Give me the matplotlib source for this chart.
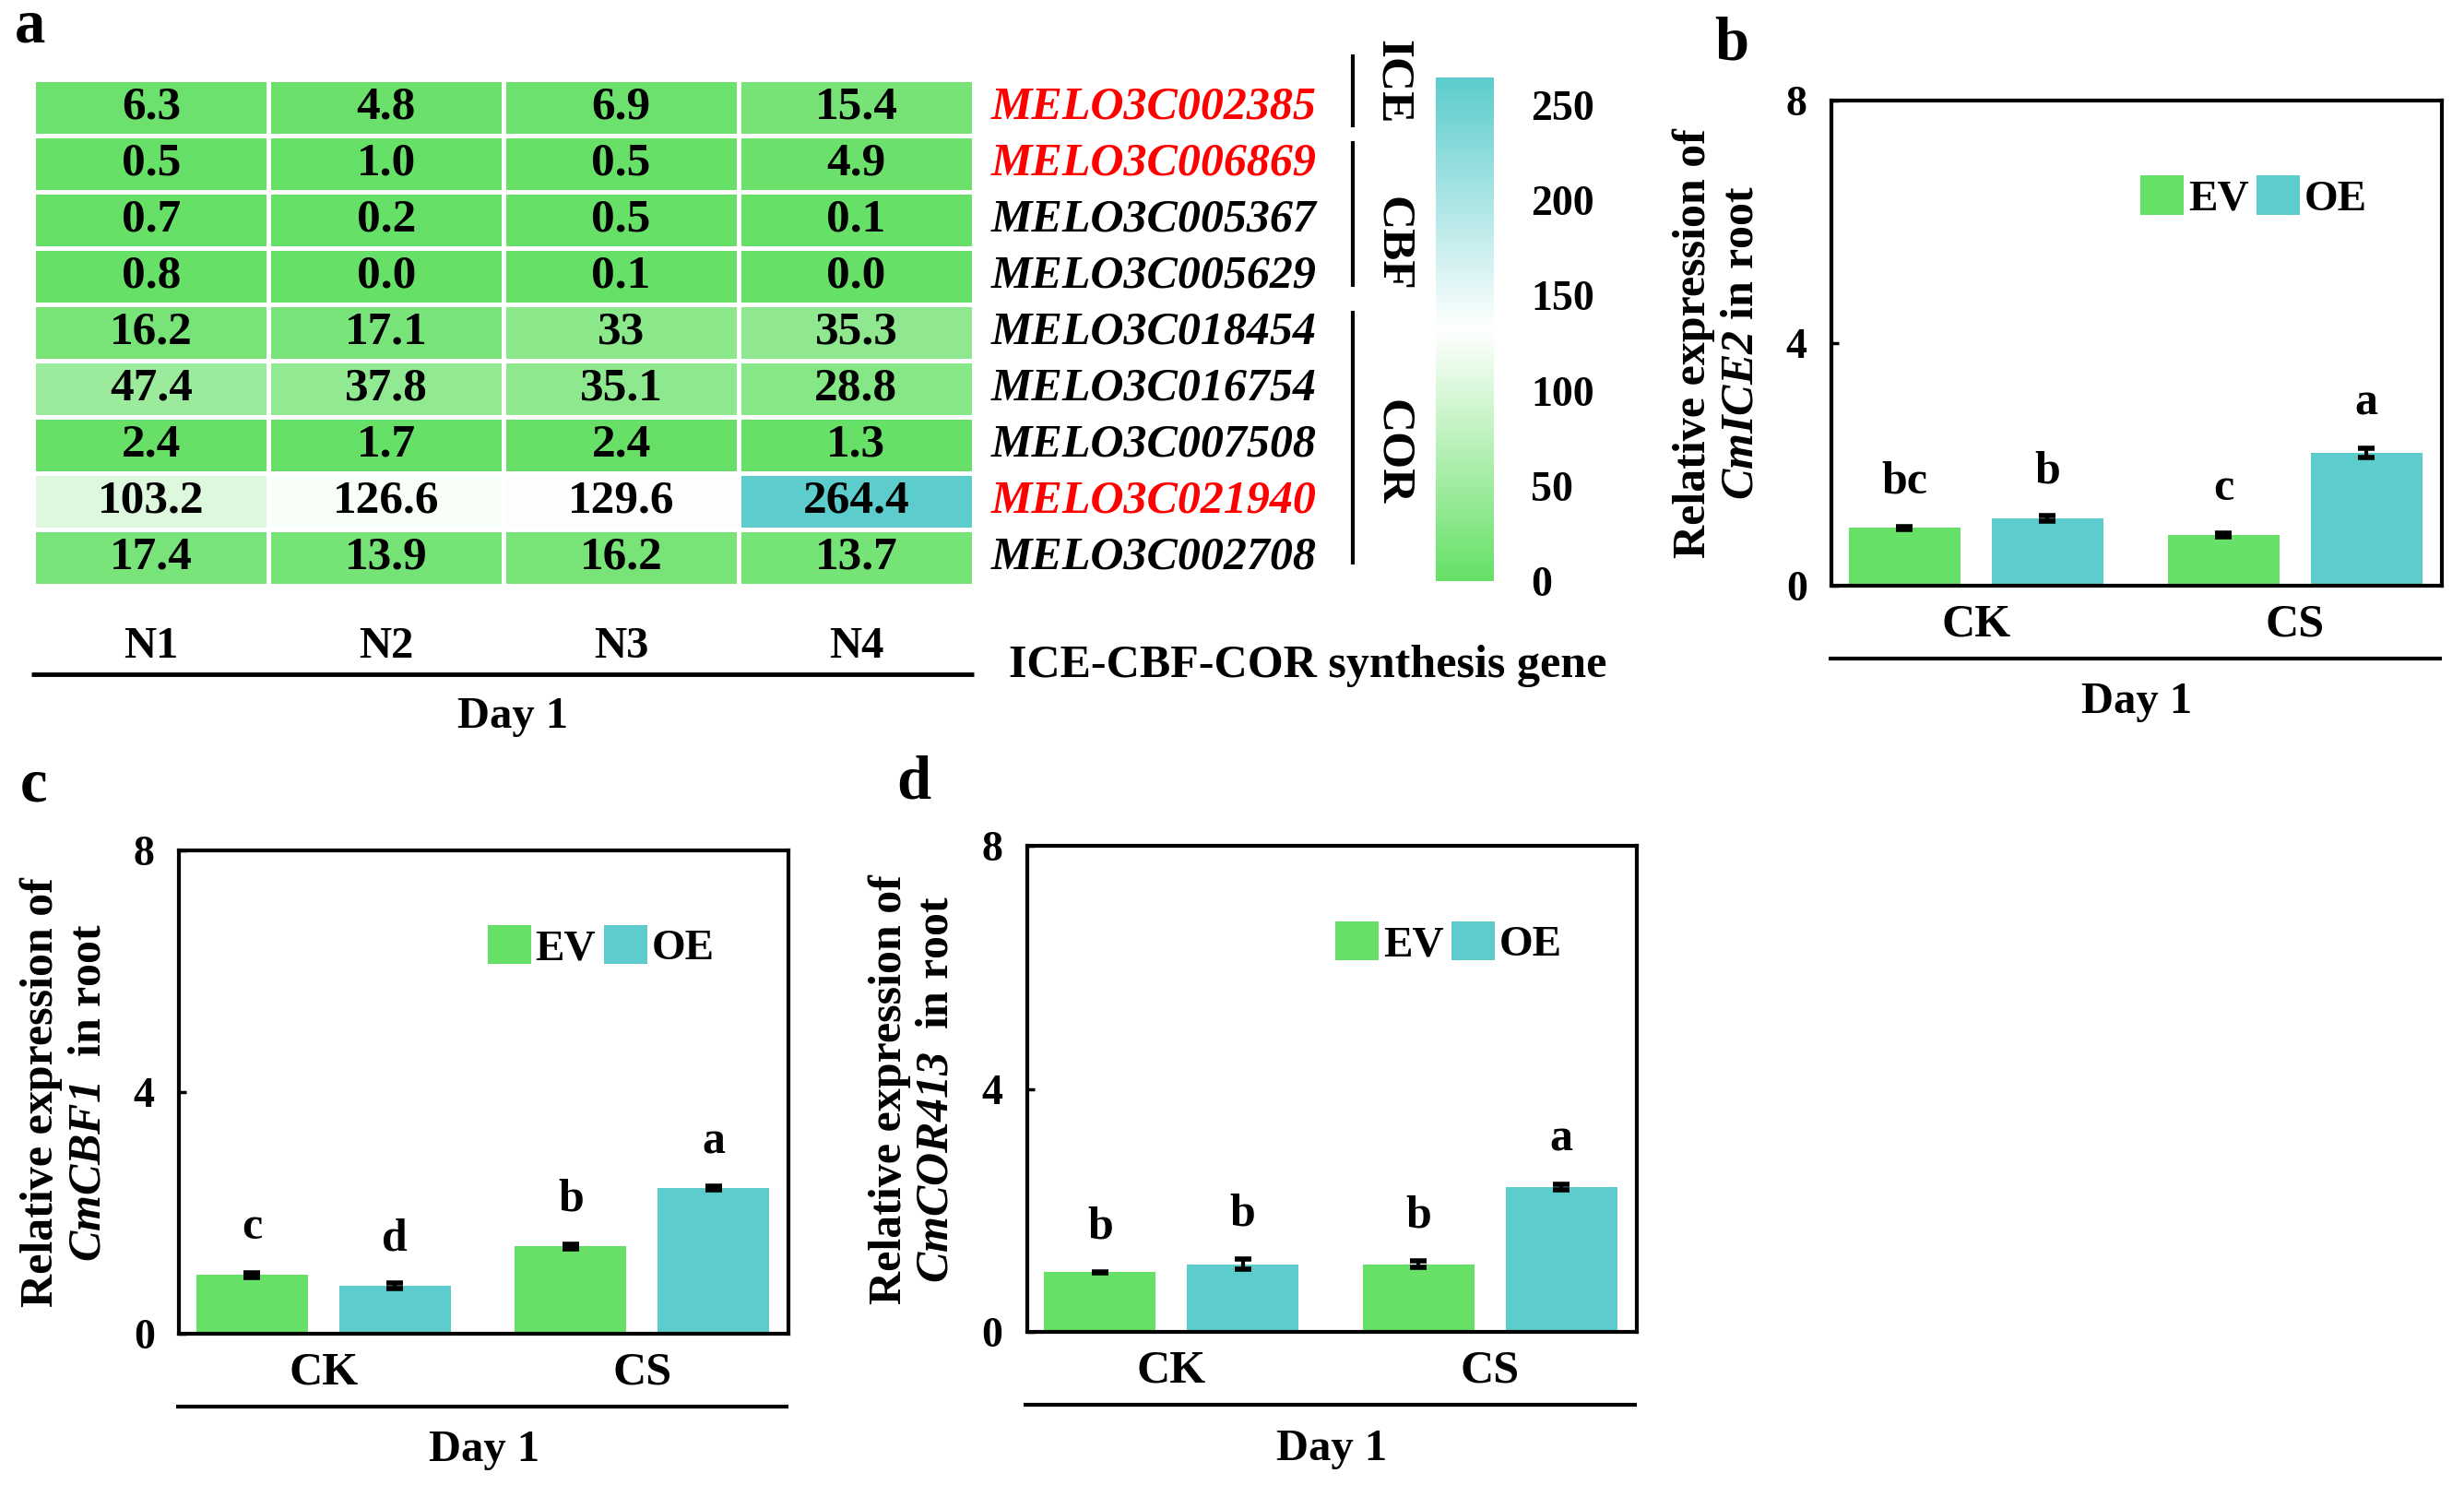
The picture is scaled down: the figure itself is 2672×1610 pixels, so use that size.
import numpy as np
import matplotlib
matplotlib.use('Agg')
import matplotlib.pyplot as plt
from matplotlib.colors import LinearSegmentedColormap
from matplotlib.patches import Patch

plt.rcParams['font.family'] = ['Liberation Serif', 'DejaVu Serif']
plt.rcParams['font.weight'] = 'bold'
plt.rcParams['mathtext.fontset'] = 'custom'
plt.rcParams['mathtext.it'] = 'Liberation Serif:italic:bold'
plt.rcParams['mathtext.rm'] = 'Liberation Serif:italic:bold'
plt.rcParams['mathtext.bf'] = 'Liberation Serif:italic:bold'

# ---------------- data ----------------
samples = ['N1', 'N2', 'N3', 'N4']
genes = ['MELO3C002385', 'MELO3C006869', 'MELO3C005367', 'MELO3C005629',
         'MELO3C018454', 'MELO3C016754', 'MELO3C007508', 'MELO3C021940',
         'MELO3C002708']
gene_highlight = [True, True, False, False, False, False, False, True, False]
expr = np.array([
    [6.3, 4.8, 6.9, 15.4],
    [0.5, 1.0, 0.5, 4.9],
    [0.7, 0.2, 0.5, 0.1],
    [0.8, 0.0, 0.1, 0.0],
    [16.2, 17.1, 33, 35.3],
    [47.4, 37.8, 35.1, 28.8],
    [2.4, 1.7, 2.4, 1.3],
    [103.2, 126.6, 129.6, 264.4],
    [17.4, 13.9, 16.2, 13.7],
])
expr_text = [
    ['6.3', '4.8', '6.9', '15.4'],
    ['0.5', '1.0', '0.5', '4.9'],
    ['0.7', '0.2', '0.5', '0.1'],
    ['0.8', '0.0', '0.1', '0.0'],
    ['16.2', '17.1', '33', '35.3'],
    ['47.4', '37.8', '35.1', '28.8'],
    ['2.4', '1.7', '2.4', '1.3'],
    ['103.2', '126.6', '129.6', '264.4'],
    ['17.4', '13.9', '16.2', '13.7'],
]
gene_groups = ['ICE', 'CBF', 'COR']
cbar_ticks = [0, 50, 100, 150, 200, 250]

conditions = ['CK', 'CS']
series = ['EV', 'OE']

ice2_ev = [0.95, 0.84]
ice2_ev_err = [0.03, 0.03]
ice2_oe = [1.11, 2.19]
ice2_oe_err = [0.04, 0.08]
ice2_letters_ev = ['bc', 'c']
ice2_letters_oe = ['b', 'a']

cbf1_ev = [0.98, 1.45]
cbf1_ev_err = [0.04, 0.04]
cbf1_oe = [0.80, 2.41]
cbf1_oe_err = [0.04, 0.03]
cbf1_letters_ev = ['c', 'b']
cbf1_letters_oe = ['d', 'a']

cor413_ev = [0.985, 1.12]
cor413_ev_err = [0.01, 0.05]
cor413_oe = [1.12, 2.39]
cor413_oe_err = [0.08, 0.05]
cor413_letters_ev = ['b', 'b']
cor413_letters_oe = ['b', 'a']

GREEN = '#66E066'
TEAL = '#5CCCCC'
RED = '#FF0000'

W, H = 2672, 1610
fig = plt.figure(figsize=(W / 100, H / 100), dpi=100)

# ---------------- panel a : heatmap ----------------
cmap = LinearSegmentedColormap.from_list('gwt', [GREEN, '#FFFFFF', TEAL])
ax_h = fig.add_axes([0.01365, 0.6056, 0.3815, 0.3409])
mesh = ax_h.pcolormesh(np.arange(len(samples) + 1), np.arange(len(genes) + 1), expr,
                       cmap=cmap, vmin=expr.min(), vmax=expr.max(),
                       edgecolors='white', linewidth=3.6)
ax_h.set_xlim(0, len(samples))
ax_h.set_ylim(len(genes), 0)
for s in ax_h.spines.values():
    s.set_visible(False)
ax_h.set_yticks([])
ax_h.set_xticks(np.arange(len(samples)) + 0.5)
ax_h.set_xticklabels(samples)
ax_h.tick_params(axis='x', length=0, pad=32, labelsize=35)

for i in range(len(genes)):
    for j in range(len(samples)):
        ax_h.text(j + 0.5, i + 0.5, expr_text[i][j], ha='center', va='center',
                  fontsize=37, fontweight='bold', color='black')

ytr = ax_h.get_yaxis_transform()
for i, g in enumerate(genes):
    ax_h.text(1.018, i + 0.5, g, transform=ytr, ha='left', va='center',
              fontsize=36, fontweight='bold', fontstyle='italic',
              color=RED if gene_highlight[i] else 'black')

# group brackets
bracket_x = 1.4035
bracket_spans = [(1.0496, 0.9056), (0.878, 0.590), (0.543, 0.042)]
label_y = [0.995, 0.676, 0.264]
for (y0, y1), ly, name in zip(bracket_spans, label_y, gene_groups):
    ax_h.plot([bracket_x, bracket_x], [y0, y1], transform=ax_h.transAxes,
              color='black', lw=3, clip_on=False, solid_capstyle='butt')
    ax_h.text(1.4456, ly, name, transform=ax_h.transAxes, rotation=-90,
              ha='center', va='center', fontsize=37, fontweight='bold')

ax_h.plot([-0.002, 1.0], [-0.175, -0.175], transform=ax_h.transAxes,
          color='black', lw=3.5, clip_on=False, solid_capstyle='butt')
ax_h.text(0.51, -0.259, 'Day 1', transform=ax_h.transAxes, ha='center',
          va='center', fontsize=35, fontweight='bold')
ax_h.text(1.0375, -0.159, 'ICE-CBF-COR synthesis gene', transform=ax_h.transAxes,
          ha='left', va='center', fontsize=36, fontweight='bold')

# colorbar
cax = fig.add_axes([0.5827, 0.6087, 0.0236, 0.3391])
cb = fig.colorbar(mesh, cax=cax, ticks=cbar_ticks)
cb.outline.set_visible(False)
cax.tick_params(length=0, pad=29, labelsize=33)
for t in cax.get_yticklabels():
    t.set_fontweight('bold')


# ---------------- bar panels ----------------
def bar_panel(rect, ev, ev_err, oe, oe_err, let_ev, let_oe, gene, label_space):
    ax = fig.add_axes(rect)
    x = np.arange(len(conditions))
    off, wid = 0.224, 0.35
    ekw = dict(elinewidth=3, capsize=6.5, capthick=4, ecolor='black')
    ax.bar(x - off, ev, wid, yerr=ev_err, color=GREEN, error_kw=ekw, label=series[0])
    ax.bar(x + off, oe, wid, yerr=oe_err, color=TEAL, error_kw=ekw, label=series[1])
    for xi, v, e, l in zip(x - off, ev, ev_err, let_ev):
        ax.text(xi, v + e + 0.55, l, ha='center', va='baseline', fontsize=36,
                fontweight='bold')
    for xi, v, e, l in zip(x + off, oe, oe_err, let_oe):
        ax.text(xi, v + e + 0.55, l, ha='center', va='baseline', fontsize=36,
                fontweight='bold')
    ax.set_xlim(-0.453, 1.46)
    ax.set_ylim(0, 8)
    ax.set_yticks([0, 4, 8])
    ax.set_yticklabels(['0', '4', '8'])
    ax.tick_params(axis='y', direction='in', length=6, width=2.5, pad=19,
                   labelsize=33)
    ax.set_xticks(x)
    ax.set_xticklabels(conditions)
    ax.tick_params(axis='x', length=0, pad=14, labelsize=36)
    for t in ax.get_xticklabels() + ax.get_yticklabels():
        t.set_fontweight('bold')
    for s in ax.spines.values():
        s.set_linewidth(3)
    ax.set_ylabel('Relative expression of\n$\\mathrm{' + gene + '}$' + label_space + 'in root',
                  fontsize=36, fontweight='bold', linespacing=1.15)
    ax.yaxis.set_label_coords(-0.113, 0.5)
    handles = [Patch(facecolor=GREEN), Patch(facecolor=TEAL)]
    ax.legend(handles, series, ncol=2, loc='center', bbox_to_anchor=(0.692, 0.80),
              frameon=False, handlelength=1.0, handleheight=1.0,
              handletextpad=0.1, columnspacing=0.18,
              prop=dict(size=34, weight='bold'))
    ax.plot([-0.005, 1.0], [-0.15, -0.15], transform=ax.transAxes, color='black',
            lw=3, clip_on=False, solid_capstyle='butt')
    ax.text(0.5, -0.24, 'Day 1', transform=ax.transAxes, ha='center', va='center',
            fontsize=35, fontweight='bold')
    return ax


bar_panel([0.7433, 0.6056, 0.2476, 0.3269], ice2_ev, ice2_ev_err, ice2_oe, ice2_oe_err,
          ice2_letters_ev, ice2_letters_oe, 'CmICE2', ' ')
bar_panel([0.07264, 0.1016, 0.2475, 0.3259], cbf1_ev, cbf1_ev_err, cbf1_oe, cbf1_oe_err,
          cbf1_letters_ev, cbf1_letters_oe, 'CmCBF1', '  ')
bar_panel([0.4168, 0.1029, 0.2474, 0.3275], cor413_ev, cor413_ev_err, cor413_oe,
          cor413_oe_err, cor413_letters_ev, cor413_letters_oe, 'CmCOR413', '  ')

# panel letters
for lx, ly, lt in [(0.01235, 0.9717, 'a'), (0.7028, 0.9602, 'b'),
                   (0.0135, 0.4608, 'c'), (0.371, 0.4627, 'd')]:
    fig.text(lx, ly, lt, ha='center', va='baseline', fontsize=48, fontweight='bold')

fig.savefig('out.png', dpi=100)
